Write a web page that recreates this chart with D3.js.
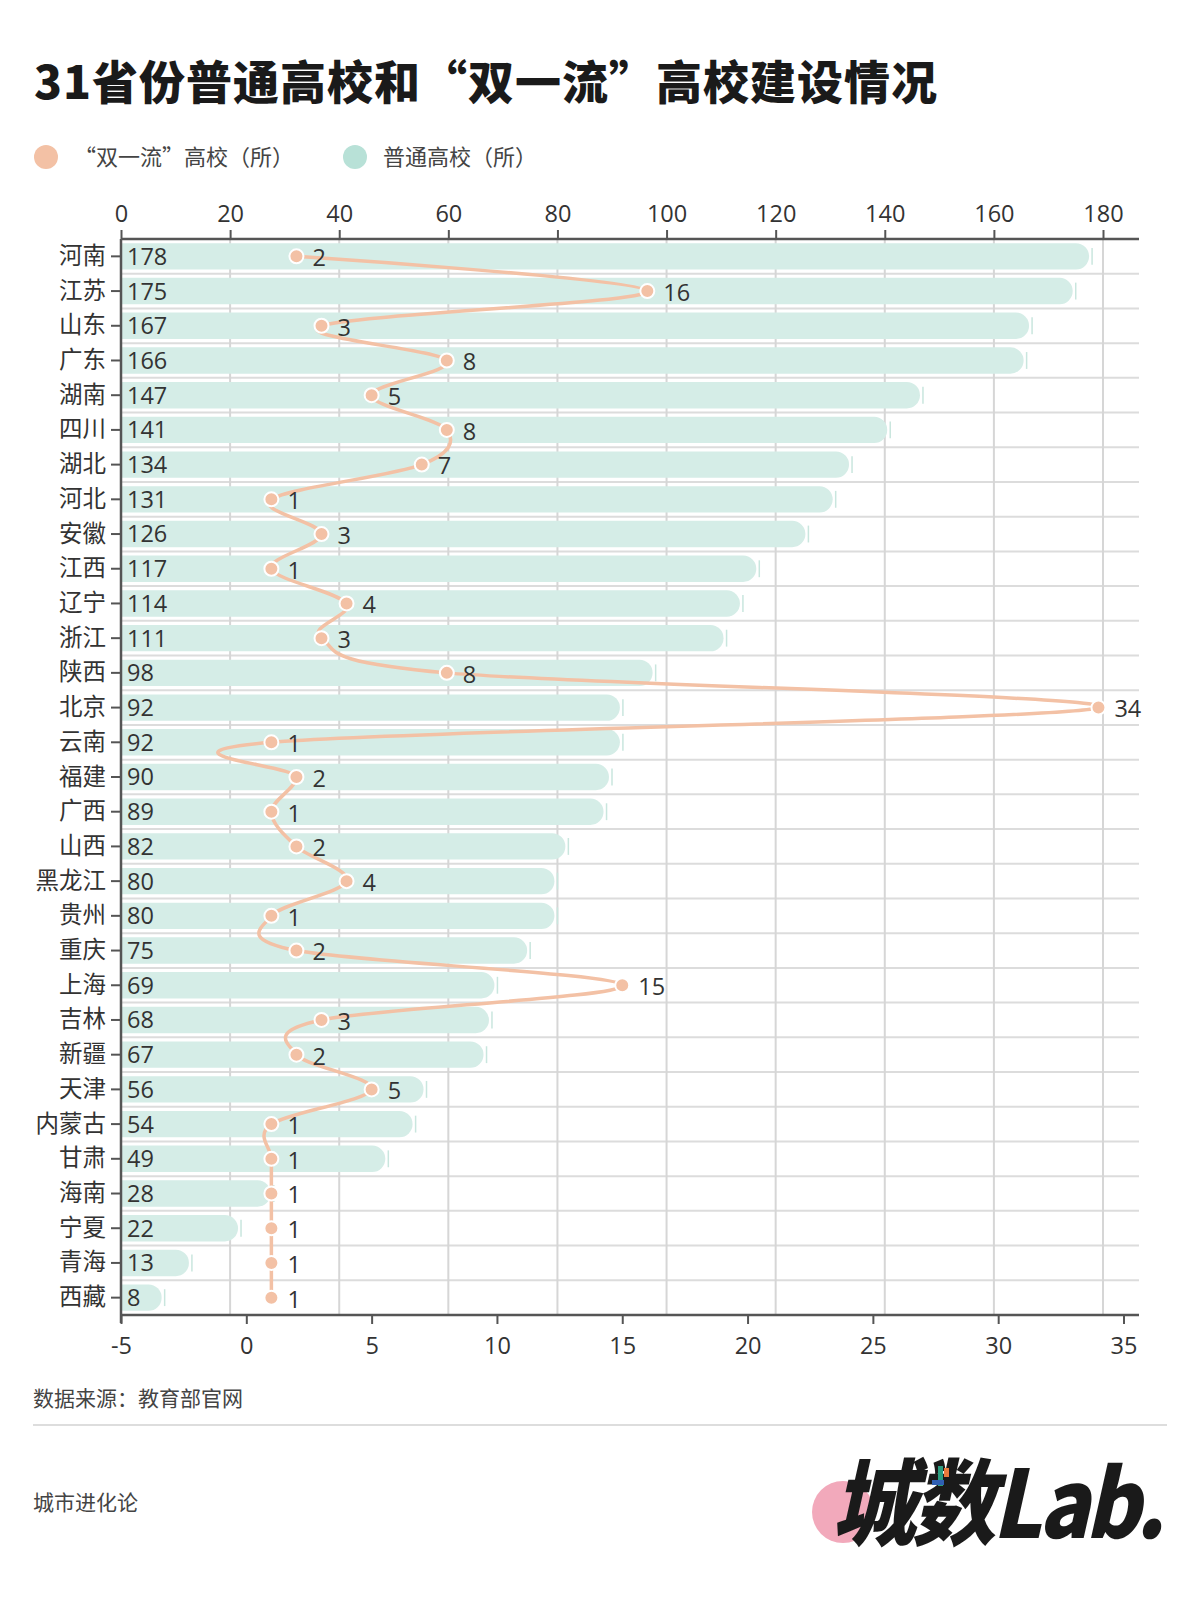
<!DOCTYPE html>
<html lang="zh">

<head>
    <meta charset="UTF-8">
    <title>31省份普通高校和“双一流”高校建设情况</title>
    <style>
        body { margin: 0; background: #fff; }
        svg text { font-family: "Open Sans", "Noto Sans CJK SC", sans-serif; fill: #333; }
    </style>
</head>

<body>
    <div id="wrapper"></div>

    <script src="https://d3js.org/d3.v7.min.js"></script>
    <script>
        // 資料
        const provinces = ['河南', '江苏', '山东', '广东', '湖南', '四川', '湖北', '河北', '安徽', '江西',
            '辽宁', '浙江', '陕西', '北京', '云南', '福建', '广西', '山西', '黑龙江', '贵州',
            '重庆', '上海', '吉林', '新疆', '天津', '内蒙古', '甘肃', '海南', '宁夏', '青海', '西藏'];
        const generalCount = [178, 175, 167, 166, 147, 141, 134, 131, 126, 117,
            114, 111, 98, 92, 92, 90, 89, 82, 80, 80,
            75, 69, 68, 67, 56, 54, 49, 28, 22, 13, 8];
        const doubleCount = [2, 16, 3, 8, 5, 8, 7, 1, 3, 1,
            4, 3, 8, 34, 1, 2, 1, 2, 4, 1,
            2, 15, 3, 2, 5, 1, 1, 1, 1, 1, 1];
        const topTicks = [0, 20, 40, 60, 80, 100, 120, 140, 160, 180];
        const bottomTicks = [-5, 0, 5, 10, 15, 20, 25, 30, 35];

        const svgwidth = 1200, svgheight = 1600;
        const chartLeft = 121, chartRight = 1139, chartTop = 239, chartBottom = 1315;
        const tealBar = '#d5ede7', tealDot = '#b8e1d7', orange = '#f3c1a5';

        const svg = d3.select('#wrapper').append('svg')
            .attr('width', svgwidth)
            .attr('height', svgheight);

        // 標題
        svg.append('text')
            .text('31省份普通高校和“双一流”高校建设情况')
            .attr('x', 34).attr('y', 99)
            .style('font-family', '"Noto Sans CJK SC", sans-serif')
            .style('font-weight', 900)
            .style('font-size', '46px')
            .style('letter-spacing', '1px')
            .style('fill', '#1a1a1a');

        // 圖例
        const legend = [
            { name: '“双一流”高校（所）', color: orange, x: 46 },
            { name: '普通高校（所）', color: tealDot, x: 355 }
        ];
        const lg = svg.append('g').attr('class', 'legend');
        lg.selectAll('circle').data(legend).enter().append('circle')
            .attr('cx', d => d.x).attr('cy', 157).attr('r', 12)
            .attr('fill', d => d.color);
        lg.selectAll('text').data(legend).enter().append('text')
            .text(d => d.name)
            .attr('x', d => d.x + 28).attr('y', 157)
            .attr('dy', '0.35em')
            .style('font-family', '"Noto Sans CJK SC", sans-serif')
            .style('font-size', '22px')
            .style('fill', '#444');

        // 比例尺
        const xTop = d3.scaleLinear().domain([0, 180]).range([chartLeft, 1103]);
        const xBot = d3.scaleLinear().domain([-5, 35]).range([chartLeft, 1123.5]);
        const y = d3.scaleBand().domain(provinces).range([chartTop, chartBottom]).padding(0);
        const bw = y.bandwidth();

        // 網格
        const grid = svg.append('g').attr('class', 'grid');
        grid.selectAll('.hline').data(provinces.slice(1)).enter().append('line')
            .attr('x1', chartLeft).attr('x2', chartRight)
            .attr('y1', d => y(d)).attr('y2', d => y(d))
            .attr('stroke', '#dcdcdc').attr('stroke-width', 2);
        grid.selectAll('.vline').data(topTicks.slice(1)).enter().append('line')
            .attr('x1', d => xTop(d)).attr('x2', d => xTop(d))
            .attr('y1', chartTop).attr('y2', chartBottom)
            .attr('stroke', '#d6d6d6').attr('stroke-width', 2);

        // 普通高校長條 (右端圓角 + 細線)
        const barH = bw * 0.76;
        const bars = svg.append('g').attr('class', 'bars');
        bars.selectAll('path').data(generalCount).enter().append('path')
            .attr('d', (d, i) => {
                const y0 = y(provinces[i]) + (bw - barH) / 2, r = barH / 2;
                const x1 = xTop(d) - 3;
                return `M${chartLeft},${y0}H${x1 - r}A${r},${r} 0 0 1 ${x1 - r},${y0 + barH}H${chartLeft}Z`;
            })
            .attr('fill', tealBar);
        bars.selectAll('line').data(generalCount).enter().append('line')
            .attr('x1', d => xTop(d)).attr('x2', d => xTop(d))
            .attr('y1', (d, i) => y(provinces[i]) + bw / 2 - barH * 0.32)
            .attr('y2', (d, i) => y(provinces[i]) + bw / 2 + barH * 0.32)
            .attr('stroke', '#c9e6de').attr('stroke-width', 1.5);
        bars.selectAll('text').data(generalCount).enter().append('text')
            .text(d => d)
            .attr('x', chartLeft + 6)
            .attr('y', (d, i) => y(provinces[i]) + bw / 2)
            .attr('dy', '0.36em')
            .style('font-size', '23.5px');

        // 軸線
        const topAxis = svg.append('g')
            .attr('transform', `translate(0,${chartTop})`)
            .call(d3.axisTop(xTop).tickValues(topTicks).tickSize(9).tickSizeOuter(0).tickPadding(8));
        const botAxis = svg.append('g')
            .attr('transform', `translate(0,${chartBottom})`)
            .call(d3.axisBottom(xBot).tickValues(bottomTicks).tickFormat(d => String(d))
                .tickSize(9).tickSizeOuter(0).tickPadding(13));
        const leftAxis = svg.append('g')
            .attr('transform', `translate(${chartLeft},0)`)
            .call(d3.axisLeft(y).tickSize(10).tickSizeOuter(0).tickPadding(5));

        [topAxis, botAxis, leftAxis].forEach(a => {
            a.select('.domain').remove();
            a.selectAll('.tick line').attr('stroke', '#555').attr('stroke-width', 2);
            a.selectAll('.tick text')
                .style('font-family', '"Open Sans", "Noto Sans CJK SC", sans-serif')
                .style('font-size', '23.5px').style('fill', '#333');
        });
        svg.append('line').attr('x1', chartLeft).attr('x2', chartRight).attr('y1', chartTop).attr('y2', chartTop)
            .attr('stroke', '#555').attr('stroke-width', 2.5);
        svg.append('line').attr('x1', chartLeft).attr('x2', chartRight).attr('y1', chartBottom).attr('y2', chartBottom)
            .attr('stroke', '#555').attr('stroke-width', 2.5);
        svg.append('line').attr('x1', chartLeft).attr('x2', chartLeft).attr('y1', chartTop).attr('y2', chartBottom + 8)
            .attr('stroke', '#555').attr('stroke-width', 2.5);

        // 雙一流 折線 (平滑)
        const pts = doubleCount.map((d, i) => [xBot(d), y(provinces[i]) + bw / 2]);
        svg.append('path')
            .attr('d', d3.line().curve(d3.curveCardinal.tension(0))(pts))
            .attr('fill', 'none')
            .attr('stroke', orange)
            .attr('stroke-width', 3.5);

        const dots = svg.append('g').attr('class', 'dots');
        dots.selectAll('circle').data(doubleCount).enter().append('circle')
            .attr('cx', d => xBot(d))
            .attr('cy', (d, i) => y(provinces[i]) + bw / 2)
            .attr('r', 7)
            .attr('fill', orange)
            .attr('stroke', '#fff').attr('stroke-width', 2);
        dots.selectAll('text').data(doubleCount).enter().append('text')
            .text(d => d)
            .attr('x', d => xBot(d) + 16)
            .attr('y', (d, i) => y(provinces[i]) + bw / 2)
            .attr('dy', '0.42em')
            .style('font-size', '23.5px');

        // 資料來源 & 署名
        svg.append('text').text('数据来源：教育部官网')
            .attr('x', 33).attr('y', 1399).attr('dy', '0.35em')
            .style('font-family', '"Noto Sans CJK SC", sans-serif')
            .style('font-size', '21px').style('fill', '#444');
        svg.append('line').attr('x1', 33).attr('x2', 1167).attr('y1', 1425).attr('y2', 1425)
            .attr('stroke', '#ddd').attr('stroke-width', 2);
        svg.append('text').text('城市进化论')
            .attr('x', 33).attr('y', 1503).attr('dy', '0.35em')
            .style('font-family', '"Noto Sans CJK SC", sans-serif')
            .style('font-size', '21px').style('fill', '#444');

        // Logo
        const logo = svg.append('g').attr('class', 'logo');
        logo.append('circle').attr('cx', 843).attr('cy', 1512).attr('r', 31).attr('fill', '#f2a9bb');
        logo.append('text').text('城数Lab.')
            .attr('x', 832).attr('y', 1538)
            .attr('transform', 'translate(0,1538) scale(1,1.12) translate(0,-1538)')
            .style('font-family', '"Noto Sans CJK SC", sans-serif')
            .style('font-weight', 900)
            .style('font-style', 'italic')
            .style('font-size', '84px')
            .style('letter-spacing', '-4px')
            .style('fill', '#1a1a1a');
        // 數字上的彩色小塊
        logo.append('rect').attr('x', 938).attr('y', 1466).attr('width', 5).attr('height', 20).attr('fill', '#2a9d7f');
        logo.append('rect').attr('x', 944).attr('y', 1468).attr('width', 5).attr('height', 9).attr('fill', '#ea7a3c');
        logo.append('rect').attr('x', 932).attr('y', 1480).attr('width', 12).attr('height', 5).attr('fill', '#2f5fb3');
    </script>
</body>

</html>
